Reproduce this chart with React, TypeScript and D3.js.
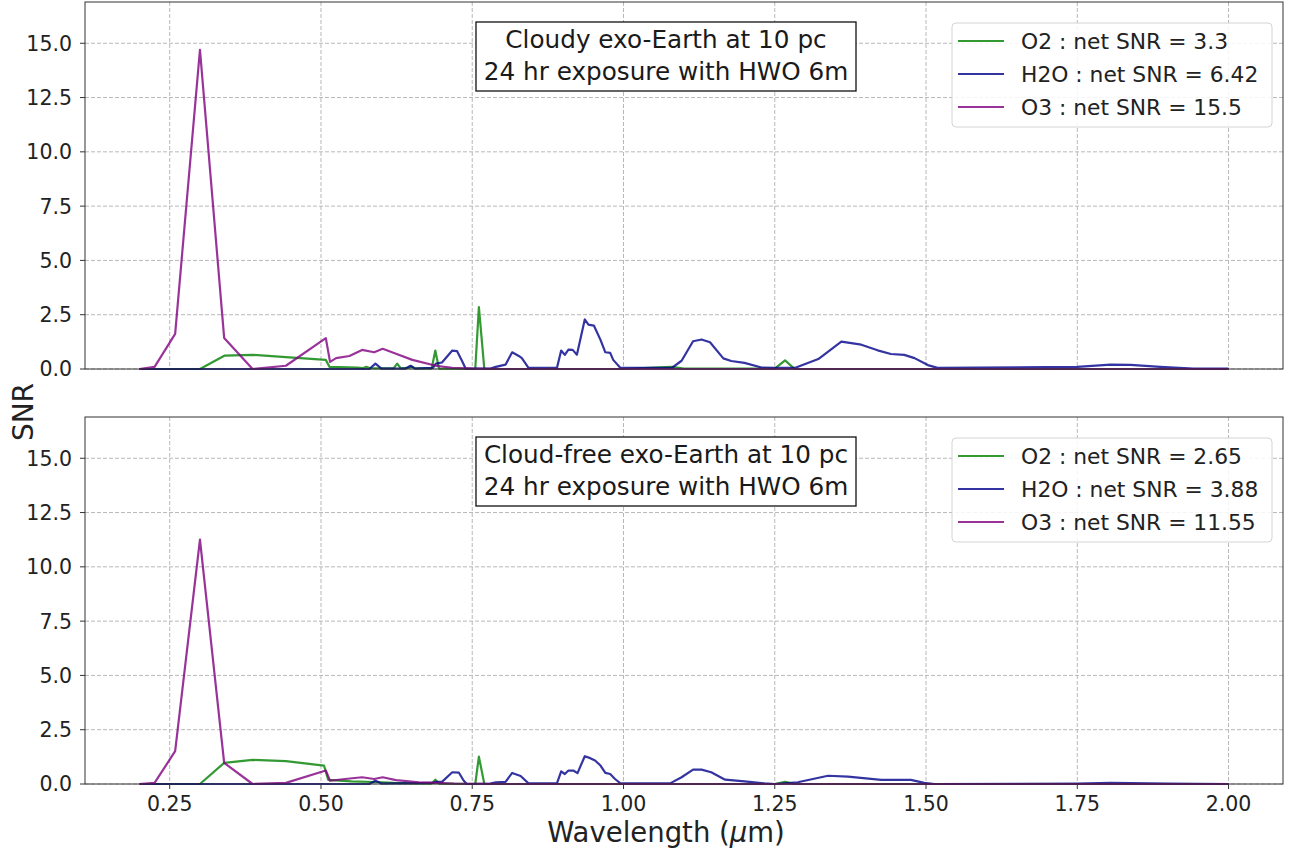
import React, { useRef, useEffect } from "react";
import * as d3 from "d3";

type Pt = [number, number];

// tick values
const xTicks = [0.25, 0.5, 0.75, 1.0, 1.25, 1.5, 1.75, 2.0];
const yTicks = [0, 2.5, 5, 7.5, 10, 12.5, 15];

// cloudy exo-Earth, [wavelength (um), SNR]
const cloudyO2: Pt[] = [
  [0.2, 0], [0.3, 0], [0.341, 0.62], [0.387, 0.65], [0.442, 0.55], [0.508, 0.42],
  [0.514, 0.1], [0.56, 0.07], [0.57, 0.04], [0.575, 0.1], [0.58, 0.04], [0.62, 0.03],
  [0.626, 0.25], [0.632, 0.03], [0.645, 0.05], [0.65, 0.12], [0.655, 0.04], [0.683, 0.02],
  [0.689, 0.85], [0.695, 0.02], [0.755, 0], [0.761, 2.85], [0.77, 0], [1.0, 0],
  [1.05, 0.07], [1.08, 0.1], [1.1, 0.02], [1.25, 0.02], [1.267, 0.4], [1.283, 0], [2.0, 0],
];
const cloudyH2O: Pt[] = [
  [0.2, 0], [0.58, 0], [0.59, 0.25], [0.6, 0.02], [0.64, 0.02], [0.648, 0.15], [0.655, 0.02],
  [0.685, 0.05], [0.69, 0.25], [0.7, 0.3], [0.717, 0.85], [0.725, 0.82], [0.733, 0.38],
  [0.739, 0.02], [0.78, 0.02], [0.789, 0.1], [0.805, 0.2], [0.816, 0.77], [0.827, 0.6],
  [0.832, 0.5], [0.843, 0.05], [0.89, 0.05], [0.897, 0.85], [0.903, 0.65], [0.909, 0.89],
  [0.916, 0.88], [0.923, 0.66], [0.936, 2.28], [0.942, 2.04], [0.951, 2.0], [0.962, 1.34],
  [0.97, 0.77], [0.978, 0.74], [0.983, 0.42], [0.995, 0.05], [1.08, 0.05], [1.096, 0.38],
  [1.115, 1.28], [1.129, 1.36], [1.143, 1.23], [1.165, 0.49], [1.178, 0.37], [1.2, 0.28],
  [1.228, 0.07], [1.25, 0.05], [1.283, 0.05], [1.322, 0.46], [1.36, 1.26], [1.393, 1.12],
  [1.42, 0.86], [1.442, 0.69], [1.464, 0.65], [1.481, 0.5], [1.503, 0.18], [1.519, 0.05],
  [1.75, 0.1], [1.805, 0.2], [1.838, 0.19], [1.887, 0.1], [1.942, 0.02], [2.0, 0.02],
];
const cloudyO3: Pt[] = [
  [0.2, 0], [0.225, 0.1], [0.259, 1.62], [0.3, 14.7], [0.34, 1.43], [0.387, 0], [0.442, 0.15],
  [0.508, 1.42], [0.515, 0.33], [0.525, 0.5], [0.547, 0.6], [0.568, 0.88], [0.588, 0.77],
  [0.602, 0.93], [0.624, 0.7], [0.651, 0.42], [0.69, 0.15], [0.717, 0.05], [0.75, 0.02],
  [0.8, 0], [2.0, 0],
];

// cloud-free exo-Earth
const clearO2: Pt[] = [
  [0.2, 0], [0.3, 0], [0.34, 0.97], [0.387, 1.11], [0.442, 1.05], [0.505, 0.85], [0.512, 0.19],
  [0.55, 0.12], [0.6, 0.08], [0.62, 0.05], [0.65, 0.03], [0.683, 0.02], [0.689, 0.2],
  [0.695, 0.02], [0.755, 0], [0.761, 1.26], [0.77, 0], [1.25, 0], [1.267, 0.1], [1.283, 0],
  [2.0, 0],
];
const clearH2O: Pt[] = [
  [0.2, 0], [0.58, 0], [0.59, 0.15], [0.6, 0.02], [0.685, 0.05], [0.69, 0.1], [0.7, 0.1],
  [0.717, 0.54], [0.728, 0.52], [0.736, 0.15], [0.741, 0], [0.78, 0.02], [0.789, 0.08],
  [0.805, 0.1], [0.816, 0.51], [0.83, 0.37], [0.843, 0.03], [0.89, 0.03], [0.897, 0.58],
  [0.903, 0.46], [0.909, 0.62], [0.917, 0.62], [0.924, 0.5], [0.936, 1.28], [0.945, 1.19],
  [0.953, 1.08], [0.962, 0.85], [0.97, 0.51], [0.978, 0.46], [0.986, 0.23], [0.995, 0.03],
  [1.077, 0.03], [1.096, 0.31], [1.115, 0.66], [1.129, 0.66], [1.145, 0.54], [1.168, 0.2],
  [1.2, 0.12], [1.233, 0.03], [1.25, 0], [1.288, 0.08], [1.338, 0.38], [1.371, 0.34],
  [1.426, 0.19], [1.475, 0.19], [1.497, 0.05], [1.514, 0], [1.75, 0.02], [1.805, 0.05],
  [1.9, 0.02], [2.0, 0],
];
const clearO3: Pt[] = [
  [0.2, 0], [0.225, 0.05], [0.259, 1.51], [0.3, 11.25], [0.34, 0.97], [0.387, 0], [0.442, 0.05],
  [0.508, 0.62], [0.515, 0.15], [0.54, 0.23], [0.568, 0.31], [0.588, 0.23], [0.602, 0.31],
  [0.624, 0.18], [0.662, 0.08], [0.69, 0.05], [0.72, 0.02], [0.8, 0], [2.0, 0],
];

const cloudyLabels = ["O2 : net SNR = 3.3", "H2O : net SNR = 6.42", "O3 : net SNR = 15.5"];
const clearLabels = ["O2 : net SNR = 2.65", "H2O : net SNR = 3.88", "O3 : net SNR = 11.55"];
const cloudyTitle = ["Cloudy exo-Earth at 10 pc", "24 hr exposure with HWO 6m"];
const clearTitle = ["Cloud-free exo-Earth at 10 pc", "24 hr exposure with HWO 6m"];
const colors = ["#008000", "#00008b", "#800080"];

const FONT = "DejaVu Sans, sans-serif";

const App: React.FC = () => {
  const chartRef = useRef<SVGSVGElement | null>(null);

  useEffect(() => {
    if (!chartRef.current) return;
    const svg = d3.select(chartRef.current);
    svg.selectAll("*").remove();

    const width = 1291;
    const height = 850;
    const left = 85;
    const plotW = 1198;
    const plotH = 367;
    svg.attr("width", width).attr("height", height);

    const x = d3.scaleLinear().domain([0.11, 2.09]).range([0, plotW]);
    const y = d3.scaleLinear().domain([0, 16.9]).range([plotH, 0]);
    const line = d3
      .line<Pt>()
      .x((d) => x(d[0]))
      .y((d) => y(d[1]));

    const drawPanel = (
      top: number,
      series: Pt[][],
      labels: string[],
      title: string[],
      showX: boolean
    ) => {
      const g = svg.append("g").attr("transform", `translate(${left},${top})`);

      // grid
      g.selectAll(".gx")
        .data(xTicks)
        .join("line")
        .attr("x1", (d) => x(d))
        .attr("x2", (d) => x(d))
        .attr("y1", 0)
        .attr("y2", plotH)
        .attr("stroke", "#b8b8b8")
        .attr("stroke-width", 1)
        .attr("stroke-dasharray", "4,2");
      g.selectAll(".gy")
        .data(yTicks)
        .join("line")
        .attr("x1", 0)
        .attr("x2", plotW)
        .attr("y1", (d) => y(d))
        .attr("y2", (d) => y(d))
        .attr("stroke", "#b8b8b8")
        .attr("stroke-width", 1)
        .attr("stroke-dasharray", "4,2");

      // lines
      series.forEach((s, i) => {
        g.append("path")
          .attr("d", line(s))
          .attr("fill", "none")
          .attr("stroke", colors[i])
          .attr("stroke-opacity", 0.8)
          .attr("stroke-width", 2.2)
          .attr("stroke-linejoin", "round");
      });

      // spines
      g.append("rect")
        .attr("width", plotW)
        .attr("height", plotH)
        .attr("fill", "none")
        .attr("stroke", "#333")
        .attr("stroke-width", 1);

      // y axis
      const yt = g.selectAll(".yt").data(yTicks).join("g")
        .attr("transform", (d) => `translate(0,${y(d)})`);
      yt.append("line").attr("x1", -5).attr("x2", 0).attr("stroke", "#333");
      yt.append("text")
        .attr("x", -13)
        .attr("dy", "0.36em")
        .attr("text-anchor", "end")
        .attr("font-family", FONT)
        .attr("font-size", 20.5)
        .attr("fill", "#222")
        .text((d) => d.toFixed(1));

      // x axis
      if (showX) {
        const xt = g.selectAll(".xt").data(xTicks).join("g")
          .attr("transform", (d) => `translate(${x(d)},${plotH})`);
        xt.append("line").attr("y1", 0).attr("y2", 5).attr("stroke", "#333");
        xt.append("text")
          .attr("y", 27)
          .attr("text-anchor", "middle")
          .attr("font-family", FONT)
          .attr("font-size", 20.5)
          .attr("fill", "#222")
          .text((d) => d.toFixed(2));
      }

      // title box
      const bx = 476 - left;
      g.append("rect")
        .attr("x", bx)
        .attr("y", 20)
        .attr("width", 380)
        .attr("height", 69)
        .attr("fill", "white")
        .attr("stroke", "#111")
        .attr("stroke-width", 1.3);
      title.forEach((t, i) => {
        g.append("text")
          .attr("x", 666 - left)
          .attr("y", 46 + i * 32)
          .attr("text-anchor", "middle")
          .attr("font-family", FONT)
          .attr("font-size", 24.7)
          .attr("fill", "#1a1a1a")
          .text(t);
      });

      // legend
      const lx = 952 - left;
      const lg = g.append("g").attr("transform", `translate(${lx},21)`);
      lg.append("rect")
        .attr("width", 320)
        .attr("height", 104)
        .attr("rx", 4)
        .attr("fill", "white")
        .attr("fill-opacity", 0.85)
        .attr("stroke", "#d4d4d4")
        .attr("stroke-width", 1);
      labels.forEach((t, i) => {
        const ry = 18 + i * 33;
        lg.append("line")
          .attr("x1", 6)
          .attr("x2", 52)
          .attr("y1", ry)
          .attr("y2", ry)
          .attr("stroke", colors[i])
          .attr("stroke-opacity", 0.8)
          .attr("stroke-width", 2.2);
        lg.append("text")
          .attr("x", 69)
          .attr("y", ry)
          .attr("dy", "0.36em")
          .attr("font-family", FONT)
          .attr("font-size", 21.8)
          .attr("fill", "#222")
          .text(t);
      });
    };

    drawPanel(2, [cloudyO2, cloudyH2O, cloudyO3], cloudyLabels, cloudyTitle, false);
    drawPanel(417, [clearO2, clearH2O, clearO3], clearLabels, clearTitle, true);

    // axis labels
    svg.append("text")
      .attr("transform", "translate(33,412) rotate(-90)")
      .attr("text-anchor", "middle")
      .attr("font-family", FONT)
      .attr("font-size", 28)
      .attr("fill", "#222")
      .text("SNR");

    const xl = svg.append("text")
      .attr("x", 666)
      .attr("y", 842)
      .attr("text-anchor", "middle")
      .attr("font-family", FONT)
      .attr("font-size", 27.5)
      .attr("fill", "#222");
    xl.append("tspan").text("Wavelength (");
    xl.append("tspan").attr("font-style", "italic").text("μ");
    xl.append("tspan").text("m)");
  }, []);

  return (
    <svg
      ref={chartRef}
      style={{ position: "absolute", left: 0, top: 0, background: "white" }}
    ></svg>
  );
};

export default App;
